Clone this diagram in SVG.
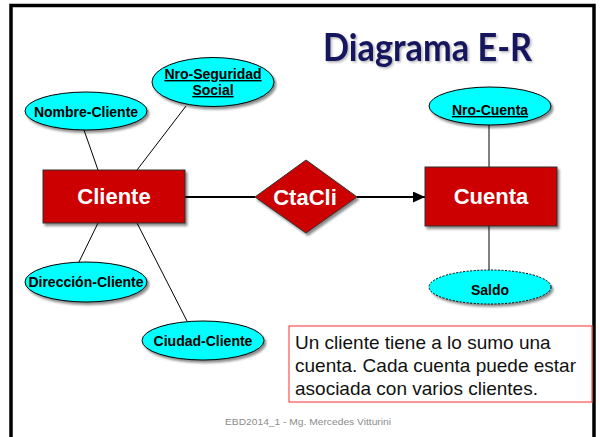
<svg xmlns="http://www.w3.org/2000/svg" width="600" height="437" viewBox="0 0 600 437">
<defs>
<filter id="sh" x="-20%" y="-20%" width="150%" height="160%">
<feDropShadow dx="2" dy="2.5" stdDeviation="1.2" flood-color="#000" flood-opacity="0.45"/>
</filter>
<filter id="tsh" x="-10%" y="-20%" width="120%" height="150%">
<feDropShadow dx="1.5" dy="1.5" stdDeviation="1" flood-color="#000" flood-opacity="0.3"/>
</filter>
<marker id="arr" viewBox="0 0 12 11" refX="12" refY="5.5" markerWidth="12" markerHeight="11" markerUnits="userSpaceOnUse" orient="auto">
<path d="M0,0 L12,5.5 L0,11 Z" fill="#000"/>
</marker>
</defs>
<style>
.attr ellipse{fill:#00FFFF;stroke:#000;stroke-width:1;filter:url(#sh)}
.attr text{font-family:"Liberation Sans",Arial,sans-serif;font-weight:bold;font-size:14px;fill:#000;text-anchor:middle}
.ent rect,.rel polygon{fill:#CC0000;stroke:#333;stroke-width:1;filter:url(#sh)}
.ent text,.rel text{font-family:"Liberation Sans",Arial,sans-serif;font-weight:bold;font-size:22px;fill:#fff;text-anchor:middle}
.thin{stroke:#000;stroke-width:1;fill:none}
.thick{stroke:#000;stroke-width:2.2;fill:none}
.u{text-decoration:underline}
</style>
<rect x="0" y="0" width="600" height="437" fill="#fff"/>
<rect x="11" y="5.5" width="583" height="440" fill="none" stroke="#000" stroke-width="3.5"/>
<text x="323" y="61" font-family="Lato,'Liberation Sans',sans-serif" font-weight="bold" font-size="38" fill="#17175E" textLength="209" lengthAdjust="spacingAndGlyphs" filter="url(#tsh)">Diagrama E-R</text>
<g id="connectors">
<line class="thin" x1="84" y1="130" x2="98" y2="170"/>
<line class="thin" x1="186" y1="106" x2="137" y2="170"/>
<line class="thin" x1="98" y1="223" x2="79" y2="262"/>
<line class="thin" x1="137" y1="223" x2="187" y2="321"/>
<line class="thin" x1="489" y1="125" x2="489" y2="167"/>
<line class="thin" x1="489" y1="226" x2="489" y2="270"/>
<line class="thick" x1="185" y1="197" x2="255" y2="197"/>
<line class="thick" x1="357" y1="197" x2="425" y2="197" marker-end="url(#arr)"/>
</g>
<g id="nombre-cliente" class="attr">
<ellipse cx="86" cy="111" rx="61" ry="19"/>
<text x="86" y="117">Nombre-Cliente</text>
</g>
<g id="nro-seguridad-social" class="attr">
<ellipse cx="213" cy="82" rx="61" ry="24.5"/>
<text x="213" y="79" class="u">Nro-Seguridad</text>
<text x="213" y="95" class="u">Social</text>
</g>
<g id="direccion-cliente" class="attr">
<ellipse cx="86" cy="282" rx="61" ry="20"/>
<text x="86" y="287">Dirección-Cliente</text>
</g>
<g id="ciudad-cliente" class="attr">
<ellipse cx="203" cy="340.5" rx="61" ry="19.5"/>
<text x="203" y="346">Ciudad-Cliente</text>
</g>
<g id="nro-cuenta" class="attr">
<ellipse cx="490" cy="106" rx="61" ry="19"/>
<text x="490" y="115" class="u">Nro-Cuenta</text>
</g>
<g id="saldo" class="attr">
<ellipse cx="490" cy="287" rx="61" ry="17" stroke-dasharray="2,1.5"/>
<text x="490" y="295">Saldo</text>
</g>
<g id="cliente" class="ent">
<rect x="43" y="170" width="142" height="53"/>
<text x="114" y="204">Cliente</text>
</g>
<g id="cuenta" class="ent">
<rect x="425" y="167" width="132" height="59"/>
<text x="491" y="204">Cuenta</text>
</g>
<g id="ctacli" class="rel">
<polygon points="255,197 306,160 357,197 306,233"/>
<text x="305" y="205">CtaCli</text>
</g>
<g id="nota">
<rect x="289" y="326" width="303" height="76" fill="#fff" stroke="#FF5050" stroke-width="1.2"/>
<text font-family="'Liberation Sans',Arial,sans-serif" font-size="19" fill="#111">
<tspan x="295" y="349">Un cliente tiene a lo sumo una</tspan>
<tspan x="295" y="372">cuenta. Cada cuenta puede estar</tspan>
<tspan x="295" y="395">asociada con varios clientes.</tspan>
</text>
</g>
<text x="225" y="425" font-family="'Liberation Sans',Arial,sans-serif" font-size="9.5" fill="#8c8c8c" textLength="166" lengthAdjust="spacingAndGlyphs">EBD2014_1 - Mg. Mercedes  Vitturini</text>
</svg>
